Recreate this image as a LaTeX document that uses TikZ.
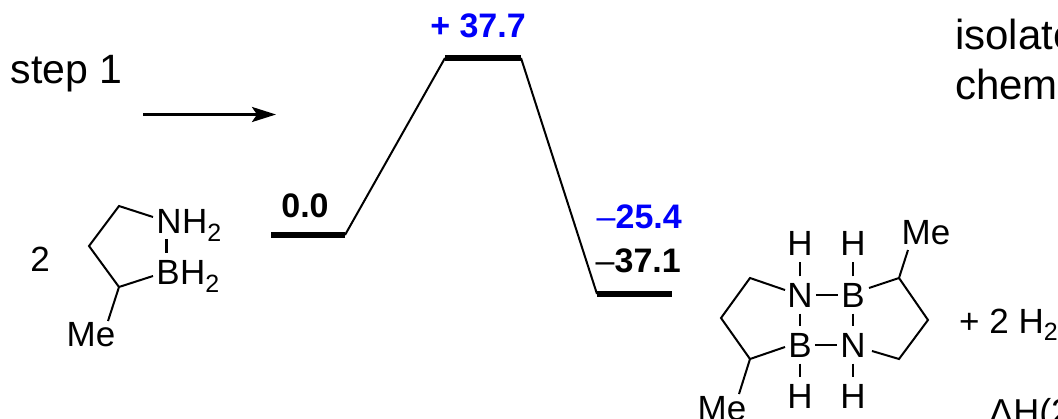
\documentclass[tikz,border=0pt]{standalone}
\usetikzlibrary{arrows.meta}
\usepackage{fontspec}
\setmainfont{Liberation Sans}
\definecolor{eblue}{RGB}{0,0,250}
\newcommand{\subtwo}{\raisebox{-0.22em}{\fontsize{25}{27}\selectfont 2}}
\tikzset{
  txt/.style={inner sep=0pt,font=\fontsize{35}{38}\selectfont},
  bigtxt/.style={inner sep=0pt,font=\fontsize{42}{46}\selectfont},
  val/.style={inner sep=0pt,font=\fontsize{34}{38}\selectfont\bfseries},
  atom/.style={inner xsep=3pt,inner ysep=6pt,font=\fontsize{35}{38}\selectfont,text height=25pt,text depth=0pt},
  subgroup/.style={inner sep=0pt,font=\fontsize{35}{38}\selectfont,text height=25pt,text depth=0pt,anchor=west,xshift=-3pt},
  bond/.style={line width=2pt},
  strongbond/.style={line width=2.8pt},
  elevel/.style={line width=6pt},
  epath/.style={line width=2pt},
}
\begin{document}
\begin{tikzpicture}[x=1pt,y=-1pt]
\useasboundingbox (0,0) rectangle (1058,418);
\begin{scope}
\clip (0,0) rectangle (1058,418);
% text
\node[bigtxt,font=\fontsize{41}{46}\selectfont,anchor=base west] (step) at (10.5,83) {step 1};
\node[bigtxt,anchor=base west] (iso) at (955,49) {isolate};
\node[bigtxt,anchor=base west] (chem) at (955,99) {chem};
\coordinate (arS) at (143,114.5);
\coordinate (arE) at (276,114.5);
\draw[line width=2.8pt,-{Stealth[length=24pt,width=15pt,inset=5pt]}] (arS) -- (arE);
% levels
\coordinate (l1a) at (271,235); \coordinate (l1b) at (345,235);
\coordinate (l2a) at (445,58);  \coordinate (l2b) at (521,58);
\coordinate (l3a) at (597,294); \coordinate (l3b) at (672,294);
\draw[elevel] (l1a) -- (l1b);
\draw[elevel] (l2a) -- (l2b);
\draw[elevel] (l3a) -- (l3b);
\draw[epath] (l1b) -- (l2a);
\draw[epath] (l2b) -- (l3a);
\node[val,anchor=base] (e0) at (305,217) {0.0};
\node[val,anchor=base,text=eblue] (e1) at (478,37) {+ 37.7};
\node[val,anchor=base east,text=eblue] (e2) at (682,228) {\textmd{–}25.4};
\node[val,anchor=base east] (e3) at (681,272) {\textmd{–}37.1};
% monomer
\node[txt,anchor=base] (two) at (40,271) {2};
\node[atom,anchor=center] (mN) at (169,221) {N};
\node[subgroup] (mH1) at (mN.east) {H\subtwo};
\node[atom,anchor=center] (mB) at (168,272) {B};
\node[subgroup] (mH2) at (mB.east) {H\subtwo};
\node[atom] (mMe) at (91,333.5) {Me};
\coordinate (m1) at (119,206);
\coordinate (m2) at (89,246);
\coordinate (m3) at (119,287);
\coordinate (mNl) at (153,217);
\coordinate (mBl) at (153,276);
\coordinate (mNb) at (166.5,239);
\coordinate (mBt) at (166.5,253);
\coordinate (mMt) at (108,321);
\draw[bond] (mNl) -- (m1) -- (m2) -- (m3) -- (mBl);
\draw[bond] (m3) -- (mMt);
\draw[strongbond] (mNb) -- (mBt);
% dimer
\node[atom] (dN1) at (800,295) {N};
\node[atom] (dB1) at (853,295) {B};
\node[atom] (dB2) at (800,345) {B};
\node[atom] (dN2) at (853,345) {N};
\node[atom] (dH1) at (800,243) {H};
\node[atom] (dH2) at (853,243) {H};
\node[atom] (dH3) at (800,396) {H};
\node[atom] (dH4) at (853,396) {H};
\node[atom] (dMe1) at (926,232) {Me};
\node[atom] (dMe2) at (722,407.5) {Me};
\draw[bond] (dN1) -- (dB1);
\draw[bond] (dB2) -- (dN2);
\draw[strongbond] (dN1) -- (dH1);
\draw[strongbond] (dB1) -- (dH2);
\draw[strongbond] (dN1) -- (dB2);
\draw[line width=1.4pt] (dB1) -- (dN2);
\draw[line width=1.6pt] (dB2) -- (dH3);
\draw[strongbond] (dN2) -- (dH4);
\coordinate (a0) at (785,290);
\coordinate (a1) at (750,278);
\coordinate (a2) at (721,318);
\coordinate (a3) at (750,359);
\coordinate (a4) at (785,347);
\coordinate (a5) at (739,394);
\coordinate (b0) at (869,288);
\coordinate (b1) at (899,278);
\coordinate (b2) at (928,320);
\coordinate (b3) at (899,359);
\coordinate (b4) at (872,351);
\coordinate (b5) at (908,250);
\draw[bond] (a0) -- (a1) -- (a2) -- (a3) -- (a4);
\draw[bond] (a3) -- (a5);
\draw[bond] (b0) -- (b1) -- (b2) -- (b3) -- (b4);
\draw[bond] (b1) -- (b5);
\node[txt,anchor=base west] (plus) at (959,333) {+ 2 H\subtwo};
\node[txt,font=\fontsize{36}{38}\selectfont,anchor=base west] (dH) at (989,424) {ΔH(2};
\end{scope}
\end{tikzpicture}
\end{document}
